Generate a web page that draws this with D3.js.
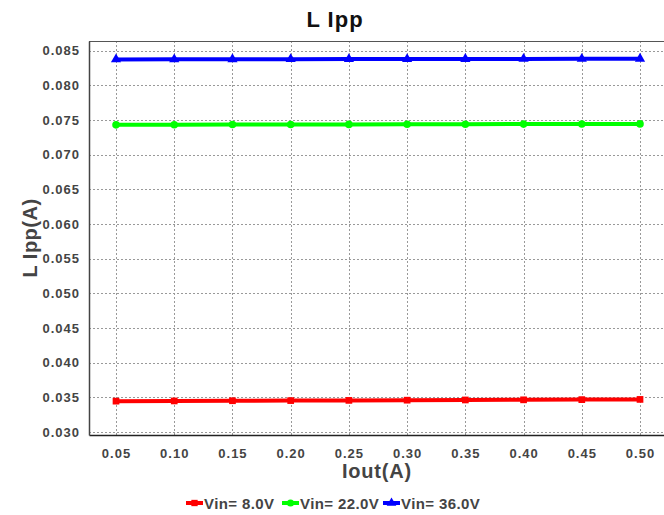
<!DOCTYPE html>
<html>
<head>
<meta charset="utf-8">
<script src="https://cdn.jsdelivr.net/npm/d3@7"></script>
<style>
  body { margin: 0; background: #fff; }
  text { font-family: "Liberation Sans", Arial, sans-serif; font-weight: bold; fill: #444; }
</style>
</head>
<body>
<svg id="chart" width="664" height="515"></svg>
<script>
// Inductor ripple current vs. output current, one series per input voltage
const iout = [0.05, 0.10, 0.15, 0.20, 0.25, 0.30, 0.35, 0.40, 0.45, 0.50];
const vin8 = [0.03445, 0.03448, 0.03451, 0.03453, 0.03456, 0.03459, 0.03462, 0.03464, 0.03467, 0.03470];
const vin22 = [0.07428, 0.07430, 0.07432, 0.07433, 0.07435, 0.07436, 0.07438, 0.07439, 0.07440, 0.07442];
const vin36 = [0.08372, 0.08373, 0.08374, 0.08375, 0.08376, 0.08377, 0.08378, 0.08379, 0.08380, 0.08381];
const seriesNames = ["Vin= 8.0V", "Vin= 22.0V", "Vin= 36.0V"];
const seriesColors = ["#ff0000", "#00ff00", "#0000ff"];
const seriesShapes = [d3.symbolSquare, d3.symbolCircle, d3.symbolTriangle];
const xTicks = [0.05, 0.10, 0.15, 0.20, 0.25, 0.30, 0.35, 0.40, 0.45, 0.50];
const yTicks = [0.030, 0.035, 0.040, 0.045, 0.050, 0.055, 0.060, 0.065, 0.070, 0.075, 0.080, 0.085];

const series = [vin8, vin22, vin36];
const svg = d3.select("#chart");
const plotL = 89, plotT = 41, plotR = 664, plotB = 435;

const x = d3.scaleLinear().domain([0.0268, 0.5206]).range([plotL, plotR]);
const y = d3.scaleLinear().domain([0.02957, 0.08637]).range([plotB, plotT]);

// grid
const grid = svg.append("g");
grid.selectAll(".gx").data(xTicks).join("line")
  .attr("x1", d => Math.round(x(d)) + 0.5).attr("x2", d => Math.round(x(d)) + 0.5)
  .attr("y1", plotT).attr("y2", plotB)
  .attr("stroke", "#999").attr("stroke-dasharray", "2,2");
grid.selectAll(".gy").data(yTicks).join("line")
  .attr("x1", plotL).attr("x2", plotR)
  .attr("y1", d => Math.round(y(d)) + 0.5).attr("y2", d => Math.round(y(d)) + 0.5)
  .attr("stroke", "#999").attr("stroke-dasharray", "2,2");

// frame
svg.append("line").attr("x1", plotL).attr("x2", plotR).attr("y1", plotT + 0.5).attr("y2", plotT + 0.5)
  .attr("stroke", "#555").attr("stroke-width", 1);

// axes
const xAxis = svg.append("g").attr("transform", `translate(0,${plotB})`)
  .call(d3.axisBottom(x).tickValues(xTicks).tickFormat(d3.format(".2f")).tickSize(0).tickPadding(14));
xAxis.select(".domain").attr("stroke", "#222").attr("stroke-width", 1.5);
xAxis.selectAll("text").style("font-size", "13px").style("letter-spacing", "1px").attr("fill", "#444");

const yAxis = svg.append("g").attr("transform", `translate(${plotL},0)`)
  .call(d3.axisLeft(y).tickValues(yTicks).tickFormat(d3.format(".3f")).tickSize(0).tickPadding(9));
yAxis.select(".domain").attr("stroke", "#444").attr("stroke-width", 1.5);
yAxis.selectAll("text").style("font-size", "13px").style("letter-spacing", "1px").attr("fill", "#444");

// lines and markers
const line = d3.line().x((d, i) => x(iout[i])).y(d => y(d));
series.forEach((vals, s) => {
  svg.append("path").datum(vals).attr("d", line)
    .attr("fill", "none").attr("stroke", seriesColors[s]).attr("stroke-width", 4);
  svg.append("g").selectAll("path").data(vals).join("path")
    .attr("transform", (d, i) => `translate(${x(iout[i])},${y(d)})`)
    .attr("d", d3.symbol().type(seriesShapes[s]).size(45))
    .attr("fill", seriesColors[s]);
});

// titles
svg.append("text").attr("x", 335).attr("y", 27).attr("text-anchor", "middle")
  .style("font-size", "22px").style("letter-spacing", "1px").style("fill", "#111").text("L Ipp");
svg.append("text").attr("x", 377).attr("y", 478).attr("text-anchor", "middle")
  .style("font-size", "20px").style("letter-spacing", "0.8px").text("Iout(A)");
svg.append("text").attr("transform", "translate(37,238) rotate(-90)").attr("text-anchor", "middle")
  .style("font-size", "20px").style("letter-spacing", "0.5px").text("L Ipp(A)");

// legend
const legendX = [186, 282, 383];
seriesNames.forEach((name, s) => {
  const g = svg.append("g").attr("transform", `translate(${legendX[s]},503)`);
  g.append("line").attr("x1", 0).attr("x2", 17).attr("y1", 0).attr("y2", 0)
    .attr("stroke", seriesColors[s]).attr("stroke-width", 4);
  g.append("path").attr("transform", "translate(8.5,0)")
    .attr("d", d3.symbol().type(seriesShapes[s]).size(40)).attr("fill", seriesColors[s]);
  g.append("text").attr("x", 18).attr("y", 6).style("font-size", "15px").style("letter-spacing", "0.4px").text(name);
});
</script>
</body>
</html>
